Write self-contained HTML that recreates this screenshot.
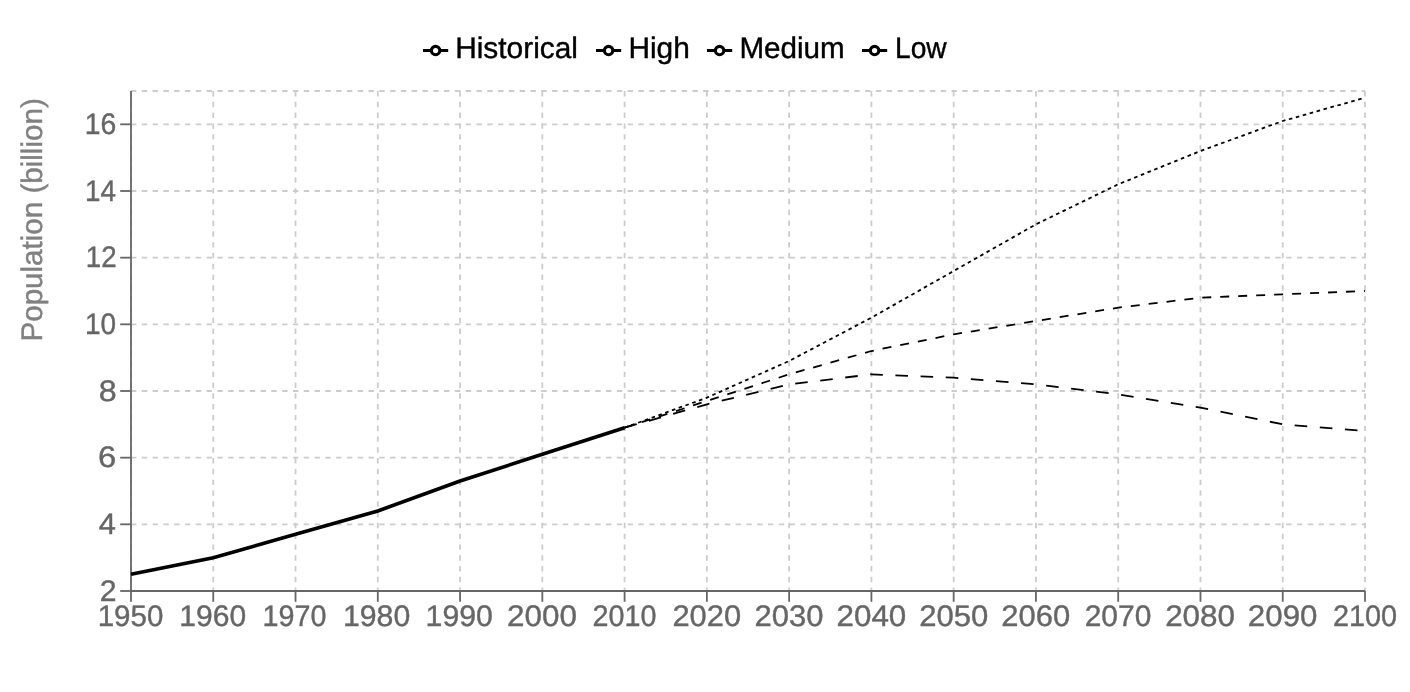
<!DOCTYPE html>
<html lang="en">
<head>
<meta charset="utf-8">
<title>World population projections</title>
<style>
html,body{margin:0;padding:0;background:#fff;}
body{width:1410px;height:692px;overflow:hidden;font-family:"Liberation Sans",Arial,sans-serif;}
svg{display:block;}
text{font-family:"Liberation Sans",Arial,sans-serif;text-rendering:geometricPrecision;}
</style>
</head>
<body>
<svg width="1410" height="692" viewBox="0 0 1410 692" role="img" aria-label="World population line chart">
<g class="grid" stroke="#ccc" stroke-width="1.799" fill="none" stroke-dasharray="5.398 5.398">
<line x1="131.0" y1="591.00" x2="1365.0" y2="591.00"/>
<line x1="131.0" y1="524.33" x2="1365.0" y2="524.33"/>
<line x1="131.0" y1="457.67" x2="1365.0" y2="457.67"/>
<line x1="131.0" y1="391.00" x2="1365.0" y2="391.00"/>
<line x1="131.0" y1="324.33" x2="1365.0" y2="324.33"/>
<line x1="131.0" y1="257.67" x2="1365.0" y2="257.67"/>
<line x1="131.0" y1="191.00" x2="1365.0" y2="191.00"/>
<line x1="131.0" y1="124.33" x2="1365.0" y2="124.33"/>
<line x1="131.0" y1="91.0" x2="1365.0" y2="91.0"/>
<line x1="131.00" y1="91.0" x2="131.00" y2="591.0"/>
<line x1="213.27" y1="91.0" x2="213.27" y2="591.0"/>
<line x1="295.53" y1="91.0" x2="295.53" y2="591.0"/>
<line x1="377.80" y1="91.0" x2="377.80" y2="591.0"/>
<line x1="460.07" y1="91.0" x2="460.07" y2="591.0"/>
<line x1="542.33" y1="91.0" x2="542.33" y2="591.0"/>
<line x1="624.60" y1="91.0" x2="624.60" y2="591.0"/>
<line x1="706.87" y1="91.0" x2="706.87" y2="591.0"/>
<line x1="789.13" y1="91.0" x2="789.13" y2="591.0"/>
<line x1="871.40" y1="91.0" x2="871.40" y2="591.0"/>
<line x1="953.67" y1="91.0" x2="953.67" y2="591.0"/>
<line x1="1035.93" y1="91.0" x2="1035.93" y2="591.0"/>
<line x1="1118.20" y1="91.0" x2="1118.20" y2="591.0"/>
<line x1="1200.47" y1="91.0" x2="1200.47" y2="591.0"/>
<line x1="1282.73" y1="91.0" x2="1282.73" y2="591.0"/>
<line x1="1365.00" y1="91.0" x2="1365.00" y2="591.0"/>
</g>
<g class="xaxis" stroke="#666" stroke-width="1.799" fill="none">
<line x1="131.0" y1="591.0" x2="1365.0" y2="591.0"/>
<line x1="131.00" y1="591.0" x2="131.00" y2="601.80"/>
<line x1="213.27" y1="591.0" x2="213.27" y2="601.80"/>
<line x1="295.53" y1="591.0" x2="295.53" y2="601.80"/>
<line x1="377.80" y1="591.0" x2="377.80" y2="601.80"/>
<line x1="460.07" y1="591.0" x2="460.07" y2="601.80"/>
<line x1="542.33" y1="591.0" x2="542.33" y2="601.80"/>
<line x1="624.60" y1="591.0" x2="624.60" y2="601.80"/>
<line x1="706.87" y1="591.0" x2="706.87" y2="601.80"/>
<line x1="789.13" y1="591.0" x2="789.13" y2="601.80"/>
<line x1="871.40" y1="591.0" x2="871.40" y2="601.80"/>
<line x1="953.67" y1="591.0" x2="953.67" y2="601.80"/>
<line x1="1035.93" y1="591.0" x2="1035.93" y2="601.80"/>
<line x1="1118.20" y1="591.0" x2="1118.20" y2="601.80"/>
<line x1="1200.47" y1="591.0" x2="1200.47" y2="601.80"/>
<line x1="1282.73" y1="591.0" x2="1282.73" y2="601.80"/>
<line x1="1365.00" y1="591.0" x2="1365.00" y2="601.80"/>
</g>
<g class="xlabels" fill="#666" stroke="#666" stroke-width="0.4" font-size="29.7" text-anchor="middle">
<text transform="translate(130.47,625.8) scale(0.9946,1)">1950</text>
<text transform="translate(212.68,625.8) scale(1.0120,1)">1960</text>
<text transform="translate(294.53,625.8) scale(0.9682,1)">1970</text>
<text transform="translate(376.60,625.8) scale(1.0187,1)">1980</text>
<text transform="translate(459.24,625.8) scale(1.0198,1)">1990</text>
<text transform="translate(542.02,625.8) scale(1.0585,1)">2000</text>
<text transform="translate(624.48,625.8) scale(0.9673,1)">2010</text>
<text transform="translate(706.79,625.8) scale(1.0407,1)">2020</text>
<text transform="translate(788.97,625.8) scale(1.0447,1)">2030</text>
<text transform="translate(871.38,625.8) scale(1.0554,1)">2040</text>
<text transform="translate(953.74,625.8) scale(1.0466,1)">2050</text>
<text transform="translate(1035.77,625.8) scale(1.0434,1)">2060</text>
<text transform="translate(1118.00,625.8) scale(1.0091,1)">2070</text>
<text transform="translate(1200.07,625.8) scale(1.0583,1)">2080</text>
<text transform="translate(1282.62,625.8) scale(1.0529,1)">2090</text>
<text transform="translate(1364.98,625.8) scale(0.9716,1)">2100</text>
</g>
<g class="yaxis" stroke="#666" stroke-width="1.799" fill="none">
<line x1="131.0" y1="91.0" x2="131.0" y2="591.0"/>
<line x1="120.20" y1="591.00" x2="131.0" y2="591.00"/>
<line x1="120.20" y1="524.33" x2="131.0" y2="524.33"/>
<line x1="120.20" y1="457.67" x2="131.0" y2="457.67"/>
<line x1="120.20" y1="391.00" x2="131.0" y2="391.00"/>
<line x1="120.20" y1="324.33" x2="131.0" y2="324.33"/>
<line x1="120.20" y1="257.67" x2="131.0" y2="257.67"/>
<line x1="120.20" y1="191.00" x2="131.0" y2="191.00"/>
<line x1="120.20" y1="124.33" x2="131.0" y2="124.33"/>
</g>
<g class="ylabels" fill="#666" stroke="#666" stroke-width="0.4" font-size="29.7" text-anchor="end">
<text transform="translate(116.49,600.80) scale(1.0168,1)">2</text>
<text transform="translate(116.00,534.13) scale(1.0380,1)">4</text>
<text transform="translate(116.32,467.47) scale(1.1044,1)">6</text>
<text transform="translate(116.75,400.80) scale(1.0836,1)">8</text>
<text transform="translate(116.09,334.13) scale(0.9431,1)">10</text>
<text transform="translate(116.58,267.47) scale(0.9314,1)">12</text>
<text transform="translate(116.02,200.80) scale(0.9367,1)">14</text>
<text transform="translate(116.20,134.13) scale(0.9530,1)">16</text>
</g>
<text class="ylabel" fill="#808080" stroke="#808080" stroke-width="0.4" font-size="29.7" text-anchor="start" transform="translate(42.1,341.5) rotate(-90) scale(0.9958393468013466,1)">Population (billion)</text>
<g class="lines" fill="none" stroke="#000">
<path d="M131.00,574.33L213.27,557.67L295.53,534.33L377.80,511.00L460.07,481.00L542.33,454.33L624.60,427.67" stroke-width="3.598"/>
<path d="M624.60,427.67L706.87,397.67L789.13,361.00L871.40,317.67L953.67,271.00L1035.93,224.33L1118.20,184.33L1200.47,151.00L1282.73,121.00L1365.00,97.67" stroke-width="1.799" stroke-dasharray="3.598 3.598"/>
<path d="M624.60,427.67L706.87,401.00L789.13,374.33L871.40,351.00L953.67,334.33L1035.93,321.00L1118.20,307.67L1200.47,297.67L1282.73,294.33L1365.00,291.00" stroke-width="1.799" stroke-dasharray="8.996 8.996"/>
<path d="M624.60,427.67L706.87,404.33L789.13,384.33L871.40,374.33L953.67,377.67L1035.93,384.33L1118.20,394.33L1200.47,407.67L1282.73,424.33L1365.00,431.00" stroke-width="1.799" stroke-dasharray="12.594 12.594"/>
</g>
<g class="legend" font-size="29.7" fill="#000" stroke="#000" stroke-width="0.4">
<path transform="translate(423,37.91) scale(0.7872)" d="M0,16h10.666666666666666A5.333333333333333,5.333333333333333,0,1,1,21.333333333333332,16H32M21.333333333333332,16A5.333333333333333,5.333333333333333,0,1,1,10.666666666666666,16" fill="none" stroke="#000" stroke-width="4"/>
<text transform="translate(455.18,57.8) scale(1.0056,1)">Historical</text>
<path transform="translate(596,37.91) scale(0.7872)" d="M0,16h10.666666666666666A5.333333333333333,5.333333333333333,0,1,1,21.333333333333332,16H32M21.333333333333332,16A5.333333333333333,5.333333333333333,0,1,1,10.666666666666666,16" fill="none" stroke="#000" stroke-width="4"/>
<text transform="translate(628.41,57.8) scale(1.0055,1)">High</text>
<path transform="translate(707,37.91) scale(0.7872)" d="M0,16h10.666666666666666A5.333333333333333,5.333333333333333,0,1,1,21.333333333333332,16H32M21.333333333333332,16A5.333333333333333,5.333333333333333,0,1,1,10.666666666666666,16" fill="none" stroke="#000" stroke-width="4"/>
<text transform="translate(739.38,57.8) scale(0.9973,1)">Medium</text>
<path transform="translate(862,37.91) scale(0.7872)" d="M0,16h10.666666666666666A5.333333333333333,5.333333333333333,0,1,1,21.333333333333332,16H32M21.333333333333332,16A5.333333333333333,5.333333333333333,0,1,1,10.666666666666666,16" fill="none" stroke="#000" stroke-width="4"/>
<text transform="translate(895.0,57.8) scale(0.9484,1)">Low</text>
</g>
</svg>
</body>
</html>
